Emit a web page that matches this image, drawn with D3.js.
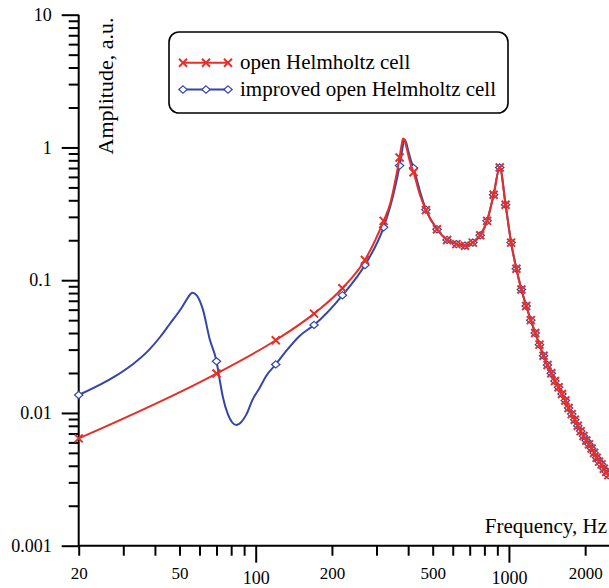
<!DOCTYPE html>
<html><head><meta charset="utf-8">
<script src="https://cdn.jsdelivr.net/npm/d3@7/dist/d3.min.js"></script>
<style>html,body{margin:0;padding:0;background:#fff;overflow:hidden;} svg{display:block;} text{font-family:"Liberation Serif","Times New Roman","DejaVu Serif",serif;}</style>
</head><body>
<svg id="c" width="609" height="588"></svg>
<script>
// Marker frequencies (Hz)
const freqs = [20,70,120,170,220,270,320,370,420,470,
  520,570,620,670,720,770,820,870,920,970,
  1020,1070,1120,1170,1220,1270,1320,1370,1420,1470,
  1520,1570,1620,1670,1720,1770,1820,1870,1920,1970,
  2020,2070,2120,2170,2220,2270,2320,2370,2420,2470];
// open Helmholtz cell
const redAmp = [0.00643,0.0198,0.0353,0.056,0.087,0.142,0.28,0.84,0.65,0.337,
  0.242,0.201,0.187,0.182,0.192,0.218,0.280,0.440,0.707,0.370,
  0.192,0.122,0.085,0.064,0.050,0.040,0.0327,0.0270,0.0230,0.0199,
  0.0174,0.0156,0.0139,0.0124,0.0109,0.0098,0.0089,0.0080,0.0073,0.0067,
  0.0062,0.0058,0.0054,0.0050,0.0046,0.0043,0.0041,0.0038,0.0036,0.0034];
// improved open Helmholtz cell
const blueAmp = [0.01365,0.0245,0.0232,0.046,0.077,0.130,0.25,0.73,0.70,0.34,
  0.242,0.201,0.187,0.182,0.192,0.218,0.280,0.440,0.707,0.370,
  0.192,0.122,0.085,0.064,0.050,0.040,0.0327,0.0270,0.0230,0.0199,
  0.0174,0.0156,0.0139,0.0124,0.0109,0.0098,0.0089,0.0080,0.0073,0.0067,
  0.0062,0.0058,0.0054,0.0050,0.0046,0.0043,0.0041,0.0038,0.0036,0.0034];
// extra curve points between markers (fine structure of the lines)
const redExtraF = [340,355,377,382,388,395,405,445];
const redExtraA = [0.38,0.55,1.05,1.17,1.12,0.98,0.80,0.44];
const blueExtraF = [28,33,38,42,45.7,51,54,56.2,58.5,61.9,65.8,72,74.3,77.7,83.9,88,91.9,97,103.7,110,132,149,
  340,355,378,383,387,392,400,410,445];
const blueExtraA = [0.019,0.0236,0.030,0.0375,0.0466,0.062,0.074,0.0806,0.077,0.060,0.036,0.018,0.013,0.00975,0.0081,0.0086,0.00975,0.0125,0.0155,0.019,0.0293,0.038,
  0.36,0.50,0.93,1.08,1.15,1.10,0.95,0.80,0.47];
// axis ticks
const xMajorTicks = [100,1000];
const xMinorTicks = [20,30,40,50,60,70,80,90,200,300,400,500,600,700,800,900,2000];
const xSmallLabels = [20,50,200,500,2000];
const yMajorTicks = [0.001,0.01,0.1,1,10];
const yMinorTicks = [0.002,0.003,0.004,0.005,0.006,0.007,0.008,0.009,
  0.02,0.03,0.04,0.05,0.06,0.07,0.08,0.09,
  0.2,0.3,0.4,0.5,0.6,0.7,0.8,0.9,
  2,3,4,5,6,7,8,9];
const seriesNames = ["open Helmholtz cell","improved open Helmholtz cell"];

const FONT = '"Liberation Serif","Times New Roman","DejaVu Serif",serif';
const RED="#e3302a", BLUE="#3545a8";
const svg = d3.select("#c");
const x = d3.scaleLog().domain([20,2500]).range([78.7,609.7]);
const y = d3.scaleLog().domain([0.001,10]).range([545.7,14.7]);

// Y axis
const gy = svg.append("g").attr("transform","translate(78.7,0)");
gy.call(d3.axisLeft(y).tickValues(yMinorTicks).tickSize(10).tickSizeOuter(0).tickFormat(""));
gy.call(g=>g.select(".domain").remove());
const gy2 = svg.append("g").attr("transform","translate(78.7,0)");
gy2.call(d3.axisLeft(y).tickValues(yMajorTicks).tickSize(17).tickSizeOuter(0).tickPadding(10).tickFormat(d=>String(d)));
gy2.select(".domain").attr("d","M0,"+y(0.001)+"V"+y(10));
[gy,gy2].forEach(g=>{g.attr("font-family",FONT);
  g.selectAll("line,path").attr("stroke","#000").attr("stroke-width",2);
  g.selectAll("text").attr("font-size",18).attr("font-family",FONT).attr("fill","#000");});

// X axis
const gx = svg.append("g").attr("transform","translate(0,545.7)");
gx.call(d3.axisBottom(x).tickValues(xMinorTicks).tickSize(10).tickSizeOuter(0)
  .tickPadding(11).tickFormat(d=>xSmallLabels.includes(d)?String(d):""));
gx.select(".domain").attr("d","M"+x(20)+",0H609");
const gx2 = svg.append("g").attr("transform","translate(0,545.7)");
gx2.call(d3.axisBottom(x).tickValues(xMajorTicks).tickSize(17).tickSizeOuter(0).tickPadding(9).tickFormat(d=>String(d)));
gx2.select(".domain").remove();
[gx,gx2].forEach(g=>{g.attr("font-family",FONT);
  g.selectAll("line,path").attr("stroke","#000").attr("stroke-width",2);
  g.selectAll("text").attr("font-family",FONT).attr("fill","#000");});
gx.selectAll("text").attr("font-size",17);
gx2.selectAll("text").attr("font-size",18);

// axis titles
svg.append("text").attr("transform","translate(113,86) rotate(-90)").attr("text-anchor","middle")
  .attr("font-family",FONT).attr("font-size",22).text("Amplitude, a.u.");
svg.append("text").attr("x",607).attr("y",533).attr("text-anchor","end")
  .attr("font-family",FONT).attr("font-size",21).text("Frequency, Hz");

// data
const redMarks = freqs.map((f,i)=>({f,a:redAmp[i]}));
const blueMarks = freqs.map((f,i)=>({f,a:blueAmp[i]}));
const redLine = redMarks.concat(redExtraF.map((f,i)=>({f,a:redExtraA[i]}))).sort((p,q)=>p.f-q.f);
const blueLine = blueMarks.concat(blueExtraF.map((f,i)=>({f,a:blueExtraA[i]}))).sort((p,q)=>p.f-q.f);
const line = d3.line().x(d=>x(d.f)).y(d=>y(d.a)).curve(d3.curveMonotoneX);

svg.append("defs").append("clipPath").attr("id","clp").append("rect")
  .attr("x",0).attr("y",0).attr("width",609).attr("height",546);
const plot = svg.append("g").attr("clip-path","url(#clp)");

const crossPath = "M-4,-4L4,4M-4,4L4,-4";
const diamondPath = "M0,-3.6L4.2,0L0,3.6L-4.2,0Z";

plot.append("path").datum(blueLine).attr("d",line).attr("fill","none").attr("stroke",BLUE).attr("stroke-width",2);
plot.selectAll(".bm").data(blueMarks).join("path").attr("class","bm")
  .attr("transform",d=>`translate(${x(d.f)},${y(d.a)})`).attr("d",diamondPath)
  .attr("fill","#fff").attr("stroke",BLUE).attr("stroke-width",1.2);
plot.append("path").datum(redLine).attr("d",line).attr("fill","none").attr("stroke",RED).attr("stroke-width",2);
plot.selectAll(".rm").data(redMarks).join("path").attr("class","rm")
  .attr("transform",d=>`translate(${x(d.f)},${y(d.a)})`).attr("d",crossPath)
  .attr("fill","none").attr("stroke",RED).attr("stroke-width",2);

// legend
const lg = svg.append("g");
lg.append("rect").attr("x",169).attr("y",32).attr("width",339).attr("height",81).attr("rx",10)
  .attr("fill","#fff").attr("stroke","#000").attr("stroke-width",1.6);
const legendItems = [{name:seriesNames[0],color:RED,path:crossPath,yy:62.7,fill:"none",sw:2},
                     {name:seriesNames[1],color:BLUE,path:diamondPath,yy:89.5,fill:"#fff",sw:1.2}];
legendItems.forEach(it=>{
  lg.append("line").attr("x1",183).attr("x2",228).attr("y1",it.yy).attr("y2",it.yy)
    .attr("stroke",it.color).attr("stroke-width",2);
  [183,206,228].forEach(px=>lg.append("path").attr("d",it.path).attr("transform",`translate(${px},${it.yy})`)
    .attr("fill",it.fill).attr("stroke",it.color).attr("stroke-width",it.sw));
  lg.append("text").attr("x",240).attr("y",it.yy+6).attr("font-family",FONT).attr("font-size",21).text(it.name);
});
</script>
</body></html>
